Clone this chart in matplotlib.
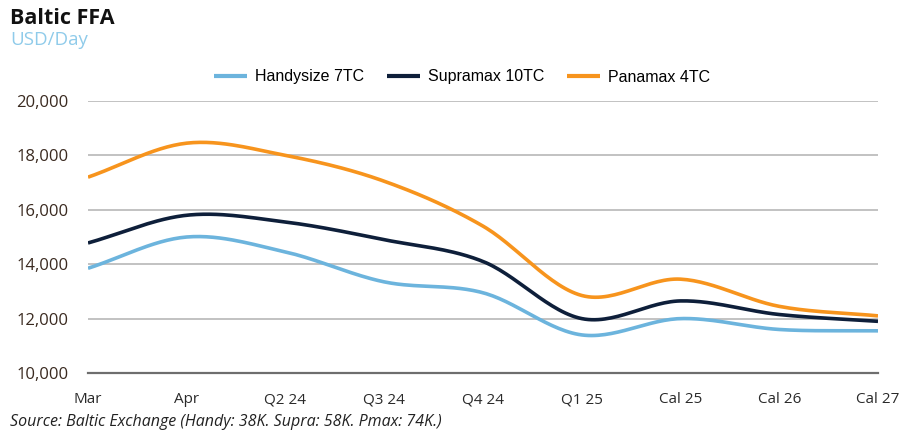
import numpy as np
import matplotlib
matplotlib.use("Agg")
import matplotlib.pyplot as plt

# Data
periods = ["Mar", "Apr", "Q2 24", "Q3 24", "Q4 24", "Q1 25", "Cal 25", "Cal 26", "Cal 27"]
handysize = [13850, 15000, 14450, 13350, 12950, 11400, 12000, 11600, 11550]
supramax = [14780, 15800, 15550, 14900, 14100, 12000, 12650, 12150, 11900]
panamax = [17200, 18450, 18000, 17050, 15400, 12850, 13450, 12450, 12100]

series = [
    ("Handysize 7TC", handysize, "#6cb4dd"),
    ("Supramax 10TC", supramax, "#0e1f3a"),
    ("Panamax 4TC", panamax, "#f7941d"),
]


def smooth(y, n=30):
    # Catmull-Rom style smoothing, like Excel's "smoothed line"
    y = np.asarray(y, dtype=float)
    x = np.arange(len(y), dtype=float)
    px = np.concatenate([[2 * x[0] - x[1]], x, [2 * x[-1] - x[-2]]])
    py = np.concatenate([[2 * y[0] - y[1]], y, [2 * y[-1] - y[-2]]])
    xs, ys = [], []
    for i in range(1, len(px) - 2):
        t = np.linspace(0, 1, n, endpoint=False)
        for arr, out in ((px, xs), (py, ys)):
            p0, p1, p2, p3 = arr[i - 1], arr[i], arr[i + 1], arr[i + 2]
            out.extend(0.5 * ((2 * p1) + (-p0 + p2) * t
                              + (2 * p0 - 5 * p1 + 4 * p2 - p3) * t ** 2
                              + (-p0 + 3 * p1 - 3 * p2 + p3) * t ** 3))
    xs.append(x[-1])
    ys.append(y[-1])
    return np.array(xs), np.array(ys)


fig = plt.figure(figsize=(9.03, 4.32), dpi=100)
ax = fig.add_axes([88 / 903, 1 - 373 / 432, 790 / 903, 272 / 432])

for name, vals, color in series:
    xs, ys = smooth(vals)
    ax.plot(xs, ys, color=color, lw=2.6, label=name, solid_capstyle="butt")

ax.set_xlim(0, len(periods) - 1)
ax.set_ylim(10000, 20000)
ax.set_yticks(range(10000, 20001, 2000))
ax.set_yticklabels([f"{v:,}" for v in range(10000, 20001, 2000)],
                   fontsize=12, color="#3a2a20", family="Open Sans")
ax.set_xticks(range(len(periods)))
ax.set_xticklabels(periods, fontsize=11, color="#2a2a2a", family="Open Sans")
ax.tick_params(axis="both", length=0)
ax.tick_params(axis="y", pad=14)
ax.tick_params(axis="x", pad=14)

ax.grid(axis="y", color="#b8b8b8", lw=1.2)
ax.set_axisbelow(True)
for s in ["top", "right", "left"]:
    ax.spines[s].set_visible(False)
ax.spines["bottom"].set_color("#6e6e6e")
ax.spines["bottom"].set_linewidth(1.6)

leg = fig.legend(loc="center", bbox_to_anchor=(462 / 903, 1 - 77 / 432), ncol=3,
                 frameon=False, prop={"family": "Liberation Sans", "size": 11.5},
                 handlelength=2.1, columnspacing=1.4, handletextpad=0.5)
for line in leg.get_lines():
    line.set_linewidth(3)

fig.text(10 / 903, 1 - 18 / 432, "Baltic FFA", fontsize=15.5, fontweight="bold",
         family="Open Sans", va="center", ha="left", color="#111111")
fig.text(10 / 903, 1 - 40 / 432, "USD/Day", fontsize=13.5, family="Open Sans",
         va="center", ha="left", color="#8fcbea")
fig.text(10 / 903, 1 - 422 / 432, "Source: Baltic Exchange (Handy: 38K. Supra: 58K. Pmax: 74K.)",
         fontsize=11.5, style="italic", family="Open Sans", va="center", ha="left",
         color="#222222")

fig.savefig("out.png", dpi=100)
